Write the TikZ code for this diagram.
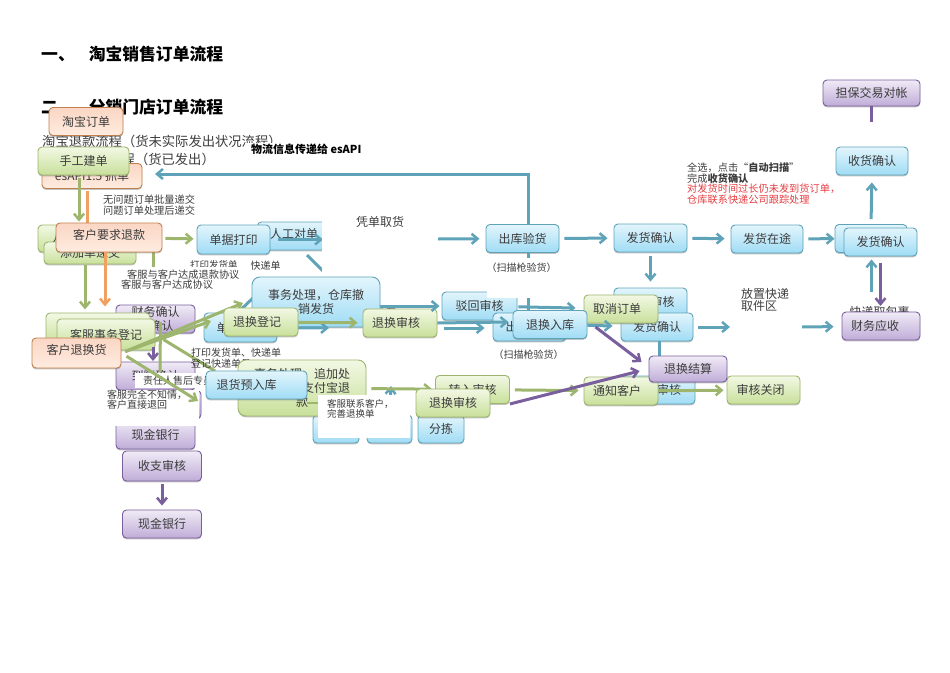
\documentclass[tikz,border=0pt]{standalone}
\usepackage{fontspec}
\setmainfont{Noto Sans CJK SC}
\usetikzlibrary{arrows.meta,shadows}
\definecolor{tealc}{HTML}{5FA3B8}
\definecolor{greenc}{HTML}{9DB56C}
\definecolor{orangec}{HTML}{F0A060}
\definecolor{purplec}{HTML}{7A5F9E}
\definecolor{inkc}{HTML}{3C3C3C}
\definecolor{redc}{HTML}{E63C40}
\definecolor{bluetop}{HTML}{E3F5FC}
\definecolor{bluebot}{HTML}{9FDCF5}
\definecolor{greentop}{HTML}{F2F8E4}
\definecolor{greenbot}{HTML}{C8E09A}
\definecolor{orangetop}{HTML}{FBD6C4}
\definecolor{orangebot}{HTML}{FEECE0}
\definecolor{purpletop}{HTML}{F0EBF6}
\definecolor{purplebot}{HTML}{C0ACD8}
\newcommand{\fz}[1]{\fontsize{#1}{#1}\selectfont}
\tikzset{
  main node/.style={rounded corners=4pt,line width=.9pt,inner sep=0pt,align=center,text=inkc,
    minimum width=74pt,minimum height=28pt,font=\fz{12},
    drop shadow={shadow xshift=0pt,shadow yshift=-1.4pt,opacity=.4,fill=black!60}},
  blue node/.style={main node,draw=tealc,top color=bluetop,bottom color=bluebot},
  green node/.style={main node,draw=greenc,top color=greentop,bottom color=greenbot},
  orange node/.style={main node,draw=orangec!80!black,top color=orangetop,bottom color=orangebot},
  purple node/.style={main node,draw=purplec,top color=purpletop,bottom color=purplebot},
  white node/.style={fill=white,inner sep=0pt,align=left,text=inkc,font=\fz{10}},
  note/.style={inner sep=0pt,align=left,text=inkc,font=\fz{10}},
  arrow base/.style={line width=3pt,shorten <=5pt,shorten >=6pt,
    -{Straight Barb[length=6pt,width=10pt,line width=2.5pt]}},
  teal arrow/.style={arrow base,draw=tealc},
  green arrow/.style={arrow base,draw=greenc},
  orange arrow/.style={arrow base,draw=orangec},
  purple arrow/.style={arrow base,draw=purplec},
  teal line/.style={line width=3pt,draw=tealc},
  green line/.style={line width=3pt,draw=greenc},
  orange line/.style={line width=3pt,draw=orangec},
  purple line/.style={line width=3pt,draw=purplec}
}
\begin{document}
\begin{tikzpicture}[x=1pt,y=-1pt]
\useasboundingbox (0,0) rectangle (950,672);
% titles
\node[note,anchor=west,font=\fz{16.8}\bfseries,text=black] (T1) at (41,54) {一、\hspace{14pt}淘宝销售订单流程};
\node[note,anchor=west,font=\fz{16.8}\bfseries,text=black] (T2) at (41,107) {二、\hspace{14pt}分销门店订单流程};
\node[note,anchor=west,font=\fz{13.3}] (T3) at (42,141) {淘宝退款流程（货未实际发出状况流程）};
\node[note,anchor=west,font=\fz{13.3}] (T4) at (55,159) {淘宝退货流程（货已发出）};
\node[white node,anchor=north west,minimum width=120pt,minimum height=12pt,font=\fz{11}\bfseries,text=black] (WL) at (245,143) {\hspace*{2pt}物流信息传递给 esAPI};
% top row
\node[orange node,minimum width=100pt,minimum height=25pt] (ES) at (92,176) {esAPI1.5 抓单};
\node[green node,minimum width=91pt] (SG) at (83.5,161) {手工建单};
\node[orange node] (TB) at (86,121.5) {淘宝订单};
\node[note,anchor=north west,font=\fz{10.2}] (N1) at (103,195) {无问题订单批量递交\\[0.2pt]问题订单处理后递交};
\node[green node,minimum width=97pt,minimum height=27pt] (AU) at (86.5,238.5) {人工审核订单};
\node[green node,minimum width=92pt,minimum height=22pt] (AD) at (90,253) {添加单递交};
\coordinate (OT) at (87,225);
\coordinate (GS) at (153,250);
\coordinate (GT) at (153,276);
\path (SG.south) ++(-4.5pt,0pt) coordinate (SGS);
\draw[green arrow,shorten <=3pt,shorten >=3pt] (SGS) -- (SGS |- AU.north);
\draw[green line] (GS) -- (GT);
\draw[orange line] ([xshift=-5pt,yshift=-2pt]ES.south) -- (OT);
\node[orange node,minimum width=106pt,minimum height=29pt] (RQ) at (109,237.5) {\raisebox{6pt}{客户要求退款}};
% first flow line
\node[blue node,minimum width=73pt] (MC) at (294,236) {\raisebox{6pt}{人工对单}};
\node[blue node,minimum width=73pt,minimum height=29pt] (PR) at (233.5,239.5) {单据打印};
\node[blue node,minimum width=73pt] (OV) at (522.5,238.5) {出库验货};
\node[blue node,minimum width=73pt] (FA) at (650.5,238) {发货确认};
\node[blue node,minimum width=72pt] (ZT) at (767,239) {发货在途};
\node[blue node,minimum width=72pt] (FB) at (871,238.5) {};
\node[blue node,minimum width=73pt] (FC) at (880.5,242) {发货确认};
\node[blue node,minimum width=72pt] (SH) at (872,161) {收货确认};
\node[purple node,minimum width=97pt,minimum height=26pt] (DB) at (871.5,93) {担保交易对帐};
\coordinate (DE) at (871.5,122);
\coordinate (VT) at (155,174);
\coordinate (PE) at (323,239.5);
\coordinate (PS) at (438,239);
\draw[purple line] (DB.south) -- (DE);
\draw[teal arrow,shorten <=0pt,shorten >=0pt] ([xshift=5.5pt]OV.north) |- (VT);
\path (RQ) edge[green arrow,shorten <=3pt,shorten >=3pt] (PR)
      (PR) edge[teal arrow,shorten <=8pt,shorten >=0pt] (PE)
      (PS) edge[teal arrow,shorten <=0pt] (OV)
      (OV) edge[teal arrow] (FA)
      (FA) edge[teal arrow] (ZT)
      (ZT) edge[teal arrow,shorten >=0pt] (FB);
\draw[teal arrow,shorten <=5pt,shorten >=7pt] (FB.north) -- (SH.south);
\coordinate (MS) at (307,255);
\coordinate (MD) at (330,278);
\draw[teal line] (MS) -- (MD);
\node[white node,anchor=north,text width=116pt,align=center,font=\fz{12}] (PK) at (380,216) {凭单取货\\[46pt]\mbox{}};
% notes under the first row
\node[note,anchor=west,font=\fz{9.5}] (D1) at (190,264.5) {打印发货单};
\node[white node,anchor=west,minimum height=15pt,font=\fz{10.2}] (D2) at (127,274.5) {客服与客户达成退款协议};
\node[white node,anchor=west,minimum height=11pt,font=\fz{10.2}] (D3) at (121,284.5) {客服与客户达成协议};
\node[white node,anchor=west,font=\fz{10}] (D4) at (250.5,266) {快递单};
\draw[green arrow,shorten <=0pt,shorten >=2pt] ([xshift=-5pt,yshift=-1pt]AD.south) -- ++(0,46);
\draw[orange arrow,shorten <=0pt,shorten >=2pt] ([xshift=-4pt]RQ.south) -- ++(0,56);
% second flow line
\node[note,anchor=west] (D5) at (356,312) {单据暂存};
\coordinate (SL) at (230,320);
\coordinate (ST) at (253,298);
\draw[teal line] (SL) -- (ST);
\node[blue node,minimum width=128pt,minimum height=50pt,rounded corners=8pt] (SW) at (316,302) {事务处理，仓库撤\\[1.5pt]销发货};
\node[blue node,minimum width=73pt,minimum height=29pt] (DJ) at (240.5,327.5) {单据打印};
\coordinate (DH) at (335,328);
\draw[teal arrow] (DJ) -- (DH);
\node[blue node,minimum width=75pt] (BH) at (479.5,306) {驳回审核};
\node[blue node,minimum width=73pt] (VB) at (529.5,327) {出库验货};
\draw[teal line] ([xshift=6pt,yshift=1pt]OV.south) -- ([xshift=-1pt]VB.north);
\node[white node,anchor=north,align=center,inner ysep=5pt,font=\fz{10}] (SA) at (521.5,258) {（扫描枪验货）\\[11pt]\mbox{}};
\node[note,anchor=center,font=\fz{10}] (SB) at (528.5,355) {（扫描枪验货）};
\node[blue node,minimum width=73pt] (FD) at (650.5,302) {发货审核};
\node[blue node,minimum width=72pt] (FE) at (657,327) {发货确认};
\node[green node] (QX) at (621,309) {\hspace*{-8pt}取消订单};
\node[green node] (TS) at (400,323) {\hspace*{-8pt}退换审核};
\path (SW.east |- BH) edge[teal arrow,shorten <=0pt,shorten >=2pt] (BH)
      (BH) edge[teal arrow,shorten <=1pt,shorten >=8pt] (QX);
\draw[teal arrow,shorten <=0pt,shorten >=0pt] (TS.east) -- ++(71,-1);
\draw[teal arrow,shorten <=7pt,shorten >=8pt] ([yshift=-5pt]TS.east) -- ([yshift=-1pt]VB.west);
\node[blue node] (TR) at (550,324.5) {退换入库};
\path (TR) edge[teal arrow,shorten <=0pt,shorten >=8pt] (FE)
      (FA) edge[teal arrow,shorten <=4pt] (FD);
\coordinate (FV) at (659,358);
\draw[teal line] ([xshift=2pt]FE.south) -- (FV);
% receipt column
\node[note,anchor=west,font=\fz{12}] (KD) at (849.5,312) {快递取包裹};
\coordinate (FK) at (880.5,306);
\coordinate (FU) at (871.5,292);
\draw[purple arrow,shorten <=7pt,shorten >=0pt] (FC.south) -- (FK);
\draw[teal arrow,shorten <=0pt,shorten >=3pt] (FU) -- (FU |- FC.south);
\node[purple node,minimum width=78pt] (CY) at (881,326) {\hspace*{-12pt}财务应收};
\coordinate (FX) at (730,327);
\coordinate (FY) at (802,327);
\draw[teal arrow,shorten >=0pt] (FE) -- (FX);
\draw[teal arrow,shorten <=0pt,shorten >=8pt] (FY) -- (CY);
\node[note,anchor=north west,font=\fz{12}] (FZ) at (741,288) {放置快递\\[0.2pt]取件区};
\node[note,anchor=north west,font=\fz{10.2}] (N2) at (687,163) {全选，点击“{\bfseries 自动扫描}”\\[.2pt]完成{\bfseries 收货确认}\\[.2pt]\textcolor{redc}{对发货时间过长仍未发到货订单，}\\[.2pt]\textcolor{redc}{仓库联系快递公司跟踪处理}};
% left column
\node[purple node,minimum width=79pt] (CW) at (155.5,319) {财务确认\\[1.5pt]\hspace*{12pt}确认};
\node[green node,minimum width=104pt,minimum height=32pt] (CO) at (98,329) {};
\node[green node,minimum width=98pt,minimum height=31pt] (CS) at (106,334.5) {客服事务登记};
\coordinate (CU) at (153,347);
\coordinate (PD) at (153,361);
\draw[purple arrow,shorten <=0pt,shorten >=0pt] (CU) -- (PD);
\node[purple node,minimum width=79pt] (P3) at (155.5,376) {\raisebox{-8pt}{到账确认}};
\node[purple node,minimum width=79pt] (P4) at (161.5,404.5) {};
\node[purple node,minimum width=79pt,minimum height=29pt] (P5) at (155.5,434.5) {\raisebox{-3pt}{现金银行}};
\node[purple node,minimum width=79pt,minimum height=30pt] (P6) at (162,466) {收支审核};
\node[purple node,minimum width=79pt] (P7) at (162,524) {现金银行};
\path (P6) edge[purple arrow,shorten <=3pt,shorten >=4pt] (P7);
\coordinate (GV) at (160,372);
\draw[green line] (CS.east |- CW) ++(5pt,-3pt) -- (GV);
\coordinate (GD) at (215,371);
\draw[green line] ([xshift=8pt,yshift=-5pt]CS.east) -- (GD);
\node[note,anchor=north west,font=\fz{10}] (N3) at (191,348) {打印发货单、快递单\\[.4pt]登记快递单号};
\node[white node,anchor=north west,minimum width=70pt,minimum height=15pt] (WA) at (135,373) {\hspace*{8pt}责任人售后专员};
\node[white node,anchor=north west,text width=92pt,font=\fz{10}] (WB) at (107,390) {\mbox{}\\[-2pt]客服完全不知情，\\[.5pt]客户直接退回\\[7pt]\mbox{}};
\node[orange node,minimum width=89pt,minimum height=30pt] (KT) at (76.5,353) {\raisebox{7pt}{客户退换货}};
\coordinate (A1) at (243,303);
\coordinate (A2) at (211,321);
\coordinate (A3) at (198,401);
\draw[green arrow,shorten <=4pt,shorten >=0pt] (KT.east) -- (A1);
\draw[green arrow,shorten <=4pt,shorten >=0pt] (KT.east) -- (A2);
\draw[green arrow,shorten <=6pt,shorten >=0pt] (KT.east) -- (A3);
\node[green node] (TD) at (261,322) {\hspace*{-8pt}退换登记};
\path (TD) edge[green arrow,shorten <=0pt,shorten >=5pt] (TS);
% lower flow line
\node[blue node,minimum width=46pt] (B1) at (336,429) {};
\node[blue node,minimum width=45pt] (B2) at (389.5,429) {};
\node[blue node,minimum width=46pt] (B3) at (441,429) {分拣};
\node[green node,minimum width=128pt,minimum height=56pt,rounded corners=8pt] (EB) at (302,388) {事务处理，追加处\\[2pt]理运费、支付宝退\\[2pt]款};
\coordinate (BU) at (391,386);
\draw[teal arrow,shorten <=0pt,shorten >=0pt] (B2.north) -- (BU);
\node[green node] (ZR) at (472.5,389.5) {转入审核};
\path (EB) edge[green arrow,shorten <=5pt,shorten >=3pt] (ZR);
\coordinate (WS) at (320,403);
\draw[green line,line width=2pt] ([xshift=5pt,yshift=-15pt]EB.center) -- (WS);
\node[blue node,minimum width=101pt] (RK) at (256.5,385) {\hspace*{-20pt}退货预入库};
\node[white node,anchor=north west,text width=92pt,font=\fz{9.5}] (WC) at (318,395) {\mbox{}\\[3pt]\hspace*{9pt}客服联系客户，\\[.5pt]\hspace*{9pt}完善退换单\\[11pt]\mbox{}};
\node[blue node] (FG) at (658,390) {\hspace*{22pt}审核};
\node[green node] (TZ) at (621,391) {\hspace*{-8pt}通知客户};
\node[green node,minimum width=73pt] (GB) at (763.5,390) {\hspace*{-6pt}审核关闭};
\node[green node] (TT) at (453,403) {退换审核};
\node[purple node,minimum width=78pt,minimum height=26pt] (TJ) at (688,369) {退换结算};
\path (TZ) edge[green arrow,shorten <=0pt,shorten >=3pt] (GB)
      (ZR) edge[green arrow,shorten <=5pt,shorten >=5pt] (TZ);
\draw[purple arrow,shorten <=0pt,shorten >=0pt] ([xshift=8pt,yshift=-2.5pt]TR.east) -- ([xshift=-7pt,yshift=7pt]TJ.west);
\draw[purple arrow,shorten <=0pt,shorten >=0pt] (ZR.south east) -- ([xshift=-9pt,yshift=-2pt]TJ.west);
\end{tikzpicture}
\end{document}
